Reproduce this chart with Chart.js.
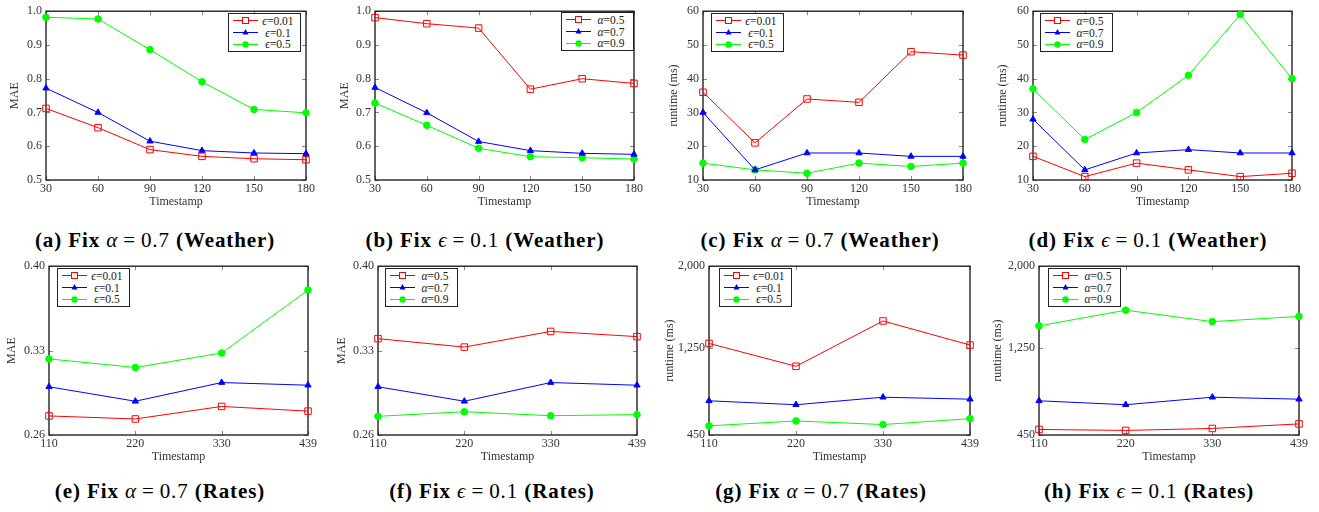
<!DOCTYPE html>
<html>
<head>
<meta charset="utf-8">
<script src="https://cdn.jsdelivr.net/npm/chart.js@4.4.0/dist/chart.umd.min.js"></script>
<style>
  body { margin: 0; background: #fff; }
  #wrap { position: relative; width: 1319px; height: 512px; overflow: hidden; font-family: "Liberation Serif", serif; }
  #wrap canvas { position: absolute; }
  .legend { position: absolute; border: 1px solid #222; background: #fff; padding: 1px 2px 1px 4px; font-size: 11.5px; color: #222; }
  .legend .row { display: flex; align-items: center; height: 11.7px; }
  .legend svg { display: block; }
  .legend .txt { width: 40px; text-align: center; }
  .cap { position: absolute; transform: translate(-50%, -50%); white-space: nowrap; font-size: 21px; letter-spacing: 0.9px; color: #000; }
  .cap .eq { margin: 0 5px; }
</style>
</head>
<body>
<div id="wrap"></div>
<script>
// x categories
const weatherTimes = ['30', '60', '90', '120', '150', '180'];
const ratesTimes = ['110', '220', '330', '439'];
const epsNames = ['0.01', '0.1', '0.5'];
const alphaNames = ['0.5', '0.7', '0.9'];

// (a) MAE, Weather, fix alpha = 0.7
const maeWeatherEps001 = [0.712, 0.655, 0.590, 0.570, 0.563, 0.560];
const maeWeatherEps01 = [0.772, 0.700, 0.615, 0.587, 0.580, 0.578];
const maeWeatherEps05 = [0.982, 0.977, 0.886, 0.791, 0.709, 0.699];
// (b) MAE, Weather, fix eps = 0.1
const maeWeatherAlpha05 = [0.981, 0.963, 0.950, 0.769, 0.800, 0.786];
const maeWeatherAlpha07 = [0.774, 0.699, 0.614, 0.587, 0.579, 0.576];
const maeWeatherAlpha09 = [0.728, 0.662, 0.594, 0.569, 0.566, 0.562];
// (c) runtime, Weather, fix alpha = 0.7
const rtWeatherEps001 = [36, 21, 34, 33, 48, 47];
const rtWeatherEps01 = [30, 13, 18, 18, 17, 17];
const rtWeatherEps05 = [15, 13, 12, 15, 14, 15];
// (d) runtime, Weather, fix eps = 0.1
const rtWeatherAlpha05 = [17, 11, 15, 13, 11, 12];
const rtWeatherAlpha07 = [28, 13, 18, 19, 18, 18];
const rtWeatherAlpha09 = [37, 22, 30, 41, 59, 40];
// (e) MAE, Rates, fix alpha = 0.7
const maeRatesEps001 = [0.2758, 0.2733, 0.2837, 0.2798];
const maeRatesEps01 = [0.3000, 0.2880, 0.3035, 0.3013];
const maeRatesEps05 = [0.3231, 0.3160, 0.3280, 0.3802];
// (f) MAE, Rates, fix eps = 0.1
const maeRatesAlpha05 = [0.3399, 0.3329, 0.3459, 0.3416];
const maeRatesAlpha07 = [0.3000, 0.2880, 0.3035, 0.3013];
const maeRatesAlpha09 = [0.2755, 0.2793, 0.2760, 0.2769];
// (g) runtime, Rates, fix alpha = 0.7
const rtRatesEps001 = [1291, 1081, 1497, 1276];
const rtRatesEps01 = [764, 728, 797, 779];
const rtRatesEps05 = [534, 579, 546, 600];
// (h) runtime, Rates, fix eps = 0.1
const rtRatesAlpha05 = [501, 492, 510, 552];
const rtRatesAlpha07 = [764, 728, 797, 779];
const rtRatesAlpha09 = [1452, 1596, 1491, 1539];

// y tick values
const maeWeatherTicks = [0.5, 0.6, 0.7, 0.8, 0.9, 1.0];
const rtWeatherTicks = [10, 20, 30, 40, 50, 60];
const maeRatesTicks = [0.26, 0.33, 0.40];
const rtRatesTicks = [450, 1250, 2000];

const seriesStyles = [
  { color: '#ff0000', pointStyle: 'rect', radius: 4.6, fill: 'rgba(255,255,255,0)' },
  { color: '#0000ff', pointStyle: 'triangle', radius: 3.6, fill: '#0000ff' },
  { color: '#00ff00', pointStyle: 'circle', radius: 3.3, fill: '#00ff00' }
];

const fmt1 = v => v.toFixed(1);
const fmtInt = v => String(v);
const fmt2 = v => v.toFixed(2);
const fmtThousands = v => v.toLocaleString('en-US');

// plot: [left, top, right, bottom] of the plot box; yDist: y title centre to the left of the box
const panels = [
  { plot: [46, 8, 306, 180], yDist: 31, labels: weatherTimes, series: [maeWeatherEps001, maeWeatherEps01, maeWeatherEps05], sym: 'ϵ', names: epsNames,
    yTitle: 'MAE', ticks: maeWeatherTicks, fmt: fmt1, legend: [228, 13], cap: ['(a)', 'α', '0.7', 'Weather'], capPos: [155, 240] },
  { plot: [375, 8, 634, 180], yDist: 30, labels: weatherTimes, series: [maeWeatherAlpha05, maeWeatherAlpha07, maeWeatherAlpha09], sym: 'α', names: alphaNames,
    yTitle: 'MAE', ticks: maeWeatherTicks, fmt: fmt1, legend: [561, 12], cap: ['(b)', 'ϵ', '0.1', 'Weather'], capPos: [485, 240] },
  { plot: [703, 8, 963, 180], yDist: 29, labels: weatherTimes, series: [rtWeatherEps001, rtWeatherEps01, rtWeatherEps05], sym: 'ϵ', names: epsNames,
    yTitle: 'runtime (ms)', ticks: rtWeatherTicks, fmt: fmtInt, legend: [711, 13], cap: ['(c)', 'α', '0.7', 'Weather'], capPos: [820, 240] },
  { plot: [1033, 8, 1292, 180], yDist: 30, labels: weatherTimes, series: [rtWeatherAlpha05, rtWeatherAlpha07, rtWeatherAlpha09], sym: 'α', names: alphaNames,
    yTitle: 'runtime (ms)', ticks: rtWeatherTicks, fmt: fmtInt, legend: [1040, 13], cap: ['(d)', 'ϵ', '0.1', 'Weather'], capPos: [1148, 240] },
  { plot: [49, 263, 308, 435], yDist: 37, labels: ratesTimes, series: [maeRatesEps001, maeRatesEps01, maeRatesEps05], sym: 'ϵ', names: epsNames,
    yTitle: 'MAE', ticks: maeRatesTicks, fmt: fmt2, legend: [57, 268], cap: ['(e)', 'α', '0.7', 'Rates'], capPos: [160, 491] },
  { plot: [378, 263, 637, 435], yDist: 36, labels: ratesTimes, series: [maeRatesAlpha05, maeRatesAlpha07, maeRatesAlpha09], sym: 'α', names: alphaNames,
    yTitle: 'MAE', ticks: maeRatesTicks, fmt: fmt2, legend: [385, 268], cap: ['(f)', 'ϵ', '0.1', 'Rates'], capPos: [492, 491] },
  { plot: [709, 263, 970, 435], yDist: 39, labels: ratesTimes, series: [rtRatesEps001, rtRatesEps01, rtRatesEps05], sym: 'ϵ', names: epsNames,
    yTitle: 'runtime (ms)', ticks: rtRatesTicks, fmt: fmtThousands, legend: [719, 268], cap: ['(g)', 'α', '0.7', 'Rates'], capPos: [821, 491] },
  { plot: [1039, 263, 1299, 435], yDist: 41, labels: ratesTimes, series: [rtRatesAlpha05, rtRatesAlpha07, rtRatesAlpha09], sym: 'α', names: alphaNames,
    yTitle: 'runtime (ms)', ticks: rtRatesTicks, fmt: fmtThousands, legend: [1048, 268], cap: ['(h)', 'ϵ', '0.1', 'Rates'], capPos: [1149, 491] }
];

// black box round the plot area plus small inward tick marks on all four sides
const framePlugin = {
  id: 'frame',
  beforeDatasetsDraw(chart) {
    const { ctx, chartArea: a, scales: { x, y } } = chart;
    ctx.save();
    ctx.beginPath();
    ctx.strokeStyle = '#8a8a8a';
    ctx.lineWidth = 1;
    x.ticks.forEach((t, i) => {
      const px = Math.round(x.getPixelForTick(i)) + 0.5;
      ctx.moveTo(px, a.bottom); ctx.lineTo(px, a.bottom - 4);
      ctx.moveTo(px, a.top); ctx.lineTo(px, a.top + 4);
    });
    y.ticks.forEach((t, i) => {
      const py = Math.round(y.getPixelForTick(i)) + 0.5;
      ctx.moveTo(a.left, py); ctx.lineTo(a.left + 4, py);
      ctx.moveTo(a.right, py); ctx.lineTo(a.right - 4, py);
    });
    ctx.stroke();
    ctx.strokeStyle = '#111';
    ctx.lineWidth = 1.3;
    ctx.strokeRect(a.left, a.top, a.right - a.left, a.bottom - a.top);
    ctx.restore();
  }
};

const wrap = document.getElementById('wrap');
const tickFont = { family: '"Liberation Serif", serif', size: 12 };
const X_H = 36, PAD_T = 8, PAD_R = 16;

function markerSvg(st) {
  const c = st.color;
  let m;
  if (st.pointStyle === 'rect') m = `<rect x="9.5" y="2.5" width="6" height="6" fill="#fff" stroke="${c}" stroke-width="1"/>`;
  else if (st.pointStyle === 'triangle') m = `<polygon points="12.5,2 15.5,7.5 9.5,7.5" fill="${c}"/>`;
  else m = `<circle cx="12.5" cy="5.5" r="3.2" fill="${c}"/>`;
  return `<svg width="25" height="11"><line x1="0" y1="5.5" x2="25" y2="5.5" stroke="${c}" stroke-width="1"/>${m}</svg>`;
}

panels.forEach(p => {
  const [L, T, R, B] = p.plot;
  const yW = p.yDist + 8;
  const cv = document.createElement('canvas');
  const w = (R - L) + yW + PAD_R, h = (B - T) + PAD_T + X_H;
  cv.width = w; cv.height = h;
  cv.style.left = (L - yW) + 'px';
  cv.style.top = (T - PAD_T) + 'px';
  cv.style.width = w + 'px';
  cv.style.height = h + 'px';
  wrap.appendChild(cv);

  const datasets = p.series.map((d, i) => {
    const st = seriesStyles[i];
    return {
      label: p.sym + '=' + p.names[i],
      data: d,
      borderColor: st.color,
      backgroundColor: st.fill,
      borderWidth: 1,
      pointStyle: st.pointStyle,
      pointRadius: st.radius,
      pointBorderWidth: 1,
      pointBackgroundColor: st.fill,
      pointBorderColor: st.color,
      tension: 0,
      clip: false
    };
  });

  new Chart(cv.getContext('2d'), {
    type: 'line',
    data: { labels: p.labels, datasets: datasets },
    options: {
      responsive: false,
      animation: false,
      layout: { padding: { top: PAD_T, right: PAD_R, left: 0, bottom: 0 } },
      plugins: { legend: { display: false }, tooltip: { enabled: false } },
      scales: {
        x: {
          type: 'category',
          offset: false,
          grid: { display: false, drawTicks: false },
          border: { display: false },
          ticks: { color: '#333', font: tickFont, padding: 2, maxRotation: 0, autoSkip: false },
          title: { display: true, text: 'Timestamp', color: '#333', font: tickFont, padding: { top: 0, bottom: 6.8 } },
          afterFit(s) { s.height = X_H; }
        },
        y: {
          min: p.ticks[0],
          max: p.ticks[p.ticks.length - 1],
          grid: { display: false, drawTicks: false },
          border: { display: false },
          afterBuildTicks(s) { s.ticks = p.ticks.map(v => ({ value: v })); },
          ticks: { color: '#333', font: tickFont, padding: 4, callback: v => p.fmt(v) },
          title: { display: true, text: p.yTitle, color: '#333', font: tickFont, padding: { top: 0.8, bottom: 0 } },
          afterFit(s) { s.width = yW; }
        }
      }
    },
    plugins: [framePlugin]
  });

  // legend box inside the plot
  const lg = document.createElement('div');
  lg.className = 'legend';
  lg.style.left = p.legend[0] + 'px';
  lg.style.top = p.legend[1] + 'px';
  lg.innerHTML = datasets.map((ds, i) =>
    `<div class="row">${markerSvg(seriesStyles[i])}<span class="txt"><i>${p.sym}</i>=${p.names[i]}</span></div>`
  ).join('');
  wrap.appendChild(lg);

  // caption
  const cap = document.createElement('div');
  cap.className = 'cap';
  cap.style.left = p.capPos[0] + 'px';
  cap.style.top = p.capPos[1] + 'px';
  cap.innerHTML = `<b>${p.cap[0]} Fix</b> <i>${p.cap[1]}</i><span class="eq">=</span>${p.cap[2]} <b>(${p.cap[3]})</b>`;
  wrap.appendChild(cap);
});
</script>
</body>
</html>
